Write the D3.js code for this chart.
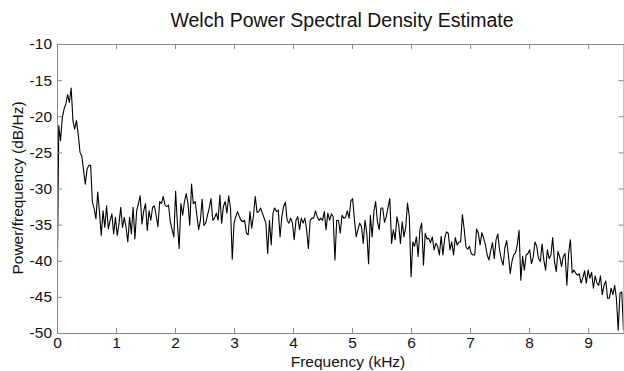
<!DOCTYPE html>
<html>
<head>
<meta charset="utf-8">
<script src="https://cdn.jsdelivr.net/npm/d3@7/dist/d3.min.js"></script>
<style>
  html, body { margin: 0; padding: 0; background: #fff; }
  svg { display: block; }
  text { font-family: "Liberation Sans", Arial, sans-serif; fill: #111; }
</style>
</head>
<body>
<svg id="chart" width="624" height="371"></svg>
<script>
// ---- data ----
const title = "Welch Power Spectral Density Estimate";
const xLabel = "Frequency (kHz)";
const yLabel = "Power/frequency (dB/Hz)";
const freqStepKHz = 0.03;           // spacing of PSD bins (kHz)
const xTicks = [0, 1, 2, 3, 4, 5, 6, 7, 8, 9];
const yTicks = [-50, -45, -40, -35, -30, -25, -20, -15, -10];
const xDomain = [0, 9.6];
const yDomain = [-50, -10];
const psdDb = [
  -47.0, -21.3, -23.4, -20.2, -19.0, -18.3, -17.0, -18.1, -16.1, -20.6,
  -21.8, -20.6, -22.5, -25.0, -25.5, -27.5, -29.4, -27.3, -26.8, -26.8,
  -31.9, -32.8, -34.2, -30.5, -33.3, -36.5, -33.1, -35.4, -32.4, -35.6,
  -34.4, -33.5, -36.3, -34.0, -36.5, -34.9, -32.6, -35.4, -34.0, -35.4,
  -37.4, -34.0, -36.3, -32.6, -37.0, -33.1, -32.1, -31.0, -34.9, -33.1,
  -32.1, -35.8, -33.1, -34.4, -32.6, -32.4, -33.7, -35.3, -31.8, -32.1,
  -31.1, -32.3, -32.5, -32.3, -34.6, -35.7, -36.7, -30.4, -34.8, -38.3,
  -32.1, -33.7, -31.8, -30.7, -32.1, -35.1, -29.4, -32.1, -31.8, -33.7,
  -35.7, -34.4, -31.5, -35.1, -34.8, -33.7, -32.7, -31.4, -34.4, -34.1,
  -33.4, -34.4, -30.9, -34.8, -32.5, -31.8, -33.4, -31.0, -32.7, -39.8,
  -34.8, -33.9, -33.2, -33.9, -34.4, -34.6, -34.4, -36.2, -36.4, -33.2,
  -35.5, -33.7, -31.1, -33.3, -33.2, -32.7, -33.4, -34.1, -34.8, -39.0,
  -34.4, -37.8, -33.4, -32.7, -33.2, -33.0, -36.7, -33.9, -32.5, -31.9,
  -34.4, -34.8, -34.1, -34.8, -37.1, -34.4, -33.9, -35.7, -34.1, -34.8,
  -34.1, -35.7, -38.3, -34.4, -34.1, -34.1, -33.1, -33.9, -34.4, -34.1,
  -34.4, -33.2, -35.7, -33.4, -34.4, -33.5, -33.9, -39.9, -34.4, -34.4,
  -36.2, -33.7, -34.1, -34.0, -33.1, -34.1, -31.7, -31.4, -34.3, -36.7,
  -35.7, -34.8, -35.3, -37.6, -34.4, -36.2, -40.4, -33.7, -36.7, -33.2,
  -31.8, -34.6, -35.7, -32.7, -32.7, -34.7, -33.9, -32.6, -31.4, -37.6,
  -35.7, -37.1, -33.9, -35.0, -37.6, -34.6, -36.7, -35.3, -32.0, -33.9,
  -42.2, -37.4, -38.0, -36.7, -39.4, -35.7, -34.8, -40.6, -36.2, -37.0,
  -36.9, -37.5, -36.7, -38.5, -37.6, -38.0, -39.2, -36.6, -39.2, -36.9,
  -36.0, -36.2, -38.5, -37.4, -39.2, -36.8, -37.8, -37.4, -37.4, -33.6,
  -35.6, -38.1, -38.4, -38.0, -39.0, -39.2, -39.2, -35.6, -36.2, -37.8,
  -36.1, -36.9, -37.8, -39.2, -39.9, -38.6, -37.5, -39.7, -37.1, -36.3,
  -38.5, -39.8, -40.6, -38.2, -37.2, -39.2, -41.8, -40.1, -39.2, -38.9,
  -37.8, -35.8, -42.7, -39.4, -41.3, -39.2, -39.0, -38.5, -40.4, -39.5,
  -37.4, -38.0, -39.7, -40.1, -37.7, -39.9, -41.3, -38.5, -39.7, -39.2,
  -36.8, -40.1, -41.5, -38.7, -39.5, -40.8, -39.4, -39.0, -43.4, -39.0,
  -37.1, -41.7, -41.3, -41.7, -42.0, -41.8, -43.1, -42.4, -41.4, -43.1,
  -41.3, -42.4, -41.6, -43.8, -42.1, -43.1, -43.4, -42.1, -44.7, -43.4,
  -42.8, -45.2, -45.2, -43.8, -44.7, -43.4, -45.2, -49.6, -44.5, -44.3,
  -49.6
];

// ---- layout ----
const W = 624, H = 371;
const plot = { left: 57, top: 44, right: 623.5, bottom: 333 };
const axisColor = "#8a8a8a";
const labelFont = "15.5px";

const svg = d3.select("#chart");
const x = d3.scaleLinear().domain(xDomain).range([plot.left, plot.right]);
const y = d3.scaleLinear().domain(yDomain).range([plot.bottom, plot.top]);

const points = psdDb.map((v, i) => ({ f: i * freqStepKHz, v }));

// clip
svg.append("clipPath").attr("id", "clip").append("rect")
  .attr("x", plot.left).attr("y", plot.top)
  .attr("width", plot.right - plot.left).attr("height", plot.bottom - plot.top);

// data line
svg.append("path")
  .datum(points)
  .attr("clip-path", "url(#clip)")
  .attr("fill", "none")
  .attr("stroke", "#000")
  .attr("stroke-width", 1.1)
  .attr("stroke-linejoin", "round")
  .attr("d", d3.line().x(d => x(d.f)).y(d => y(d.v)));

function styleAxis(g) {
  g.selectAll(".domain").attr("stroke", axisColor);
  g.selectAll(".tick line").attr("stroke", axisColor);
  g.selectAll(".tick text").attr("fill", "#111")
    .style("font-family", '"Liberation Sans", Arial, sans-serif')
    .style("font-size", labelFont);
}

// bottom
svg.append("g").attr("transform", `translate(0,${plot.bottom})`)
  .call(d3.axisBottom(x).tickValues(xTicks).tickFormat(d3.format("d"))
    .tickSizeInner(-5).tickSizeOuter(0).tickPadding(4))
  .call(styleAxis);
// top
svg.append("g").attr("transform", `translate(0,${plot.top})`)
  .call(d3.axisTop(x).tickValues(xTicks).tickFormat("")
    .tickSizeInner(-5).tickSizeOuter(0))
  .call(styleAxis);
// left
svg.append("g").attr("transform", `translate(${plot.left},0)`)
  .call(d3.axisLeft(y).tickValues(yTicks).tickFormat(d => String(d))
    .tickSizeInner(-5).tickSizeOuter(0).tickPadding(5))
  .call(styleAxis);
// right
svg.append("g").attr("transform", `translate(${plot.right},0)`)
  .call(d3.axisRight(y).tickValues(yTicks).tickFormat("")
    .tickSizeInner(-5).tickSizeOuter(0))
  .call(styleAxis);

// title and labels
svg.append("text").attr("x", 342).attr("y", 27)
  .attr("text-anchor", "middle").style("font-size", "19.5px").text(title);
svg.append("text").attr("x", 348).attr("y", 367)
  .attr("text-anchor", "middle").style("font-size", labelFont).text(xLabel);
svg.append("text")
  .attr("transform", "translate(23,188) rotate(-90)")
  .attr("text-anchor", "middle").style("font-size", labelFont).text(yLabel);
</script>
</body>
</html>
